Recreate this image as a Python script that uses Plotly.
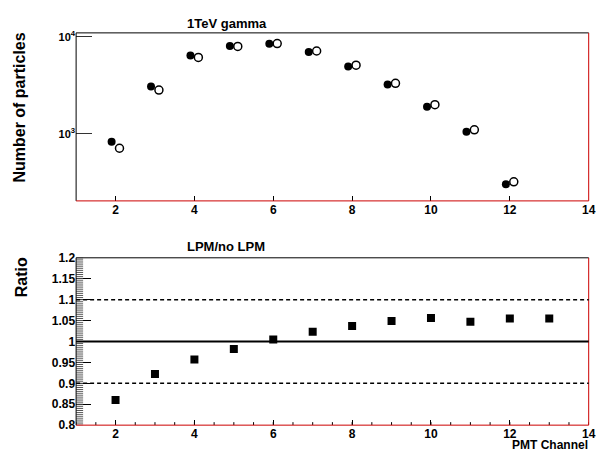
import math
import plotly.graph_objects as go

# ---- data ----
channels = [2, 3, 4, 5, 6, 7, 8, 9, 10, 11, 12]
no_lpm = [826, 3070, 6412, 8015, 8453, 6982, 4943, 3214, 1892, 1047, 302]
lpm = [708, 2818, 6124, 7943, 8515, 7130, 5093, 3311, 1995, 1096, 319]
ratio_channels = [2, 3, 4, 5, 6, 7, 8, 9, 10, 11, 12, 13]
ratio = [0.860, 0.922, 0.957, 0.982, 1.005, 1.023, 1.037, 1.049, 1.056, 1.047, 1.055, 1.055]
ref_levels = [0.9, 1.0, 1.1]
ref_dash = ["4px,3px", "solid", "4px,3px"]
x_ticks = [2, 4, 6, 8, 10, 12, 14]
x_minor = [1 + 0.5 * i for i in range(27)]
top_major = [1000, 10000]
top_major_text = ["10<sup>3</sup>", "10<sup>4</sup>"]
top_minor = [300, 400, 500, 600, 700, 800, 900, 2000, 3000, 4000, 5000, 6000, 7000, 8000, 9000]
ratio_ticks = [0.8, 0.85, 0.9, 0.95, 1.0, 1.05, 1.1, 1.15, 1.2]
ratio_tick_text = ["0.8", "0.85", "0.9", "0.95", "1", "1.05", "1.1", "1.15", "1.2"]
ratio_minor = [round(0.8 + 0.005 * i, 3) for i in range(81)]

W, H = 612, 459


def px(x):
    return x / W


def py(y):
    return 1 - y / H


FONT = "Liberation Sans, Arial, sans-serif"
xdom = [px(77), px(595.5)]
top_dom = [py(200), py(26.7)]
bot_dom = [py(431.3), py(258.7)]
XR = [1, 14]
YR_TOP = [2.307, 4.04]
YR_BOT = [0.8, 1.2]

fig = go.Figure()
fig.add_trace(go.Scatter(x=[c - 0.1 for c in channels], y=no_lpm, mode="markers",
                         marker=dict(symbol="circle", size=8, color="black"),
                         xaxis="x", yaxis="y", showlegend=False))
fig.add_trace(go.Scatter(x=[c + 0.1 for c in channels], y=lpm, mode="markers",
                         marker=dict(symbol="circle-open", size=8, color="black",
                                     line=dict(width=1.5, color="black")),
                         xaxis="x", yaxis="y", showlegend=False))
fig.add_trace(go.Scatter(x=ratio_channels, y=ratio, mode="markers",
                         marker=dict(symbol="square", size=8, color="black"),
                         xaxis="x2", yaxis="y2", showlegend=False))

tickfont = dict(family=FONT, size=12, color="black", weight="bold")
base = dict(showgrid=False, zeroline=False, showline=False, ticks="inside", tickwidth=1)

fig.update_layout(
    width=W, height=H, margin=dict(l=0, r=0, t=0, b=0),
    paper_bgcolor="white", plot_bgcolor="white",
    xaxis=dict(anchor="y", range=XR, domain=xdom, tickmode="array", tickvals=x_ticks,
               ticklen=5, tickcolor="black", tickfont=tickfont, **base),
    xaxis2=dict(anchor="y2", range=XR, domain=xdom, tickmode="array", tickvals=x_ticks,
                ticklen=5, tickcolor="black", tickfont=tickfont, **base),
    yaxis=dict(type="log", range=YR_TOP, domain=top_dom, anchor="x",
               tickmode="array", tickvals=top_major, ticktext=top_major_text,
               ticklen=16, tickcolor="#333",
               tickfont=dict(family=FONT, size=11, color="black", weight="bold"), **base),
    yaxis2=dict(range=YR_BOT, domain=bot_dom, anchor="x2",
                tickmode="array", tickvals=ratio_ticks, ticktext=ratio_tick_text,
                ticklen=15, tickcolor="black", tickfont=tickfont, **base),
)

shapes = []
# minor ticks (pixel-length lines anchored at the axes)
for v in x_minor:
    shapes.append(dict(type="line", xref="x", x0=v, x1=v, yref="y", ysizemode="pixel",
                       yanchor=YR_TOP[0], y0=0, y1=3, line=dict(color="black", width=1)))
    shapes.append(dict(type="line", xref="x2", x0=v, x1=v, yref="y2", ysizemode="pixel",
                       yanchor=YR_BOT[0], y0=0, y1=3, line=dict(color="black", width=1)))
for v in top_minor:
    lv = math.log10(v)
    shapes.append(dict(type="line", yref="y", y0=lv, y1=lv, xref="x", xsizemode="pixel",
                       xanchor=XR[0], x0=0, x1=8, line=dict(color="#333", width=1)))
for v in ratio_minor:
    shapes.append(dict(type="line", yref="y2", y0=v, y1=v, xref="x2", xsizemode="pixel",
                       xanchor=XR[0], x0=0, x1=7, line=dict(color="#555", width=1)))
# frames
for xr, yr in [("x domain", "y domain"), ("x2 domain", "y2 domain")]:
    shapes.append(dict(type="line", xref=xr, yref=yr, x0=0, x1=1, y0=1, y1=1, line=dict(color="black", width=1)))
    shapes.append(dict(type="line", xref=xr, yref=yr, x0=0, x1=0, y0=0, y1=1, line=dict(color="black", width=1)))
    shapes.append(dict(type="line", xref=xr, yref=yr, x0=0, x1=1, y0=0, y1=0, line=dict(color="#cc0000", width=1)))
    shapes.append(dict(type="line", xref=xr, yref=yr, x0=1, x1=1, y0=0, y1=1, line=dict(color="#cc0000", width=1)))
for lvl, dsh in zip(ref_levels, ref_dash):
    shapes.append(dict(type="line", xref="x2 domain", yref="y2", x0=0, x1=1, y0=lvl, y1=lvl,
                       line=dict(color="black", width=1.5 if dsh != "solid" else 2, dash=dsh)))
fig.update_layout(shapes=shapes)

ann_font = dict(family=FONT, color="black", weight="bold")
fig.update_layout(annotations=[
    dict(text="1TeV gamma", x=px(229.5), y=py(16.7), xref="paper", yref="paper",
         showarrow=False, xanchor="center", yanchor="middle", font=dict(size=13, **ann_font)),
    dict(text="LPM/no LPM", x=px(229), y=py(247.3), xref="paper", yref="paper",
         showarrow=False, xanchor="center", yanchor="middle", font=dict(size=13, **ann_font)),
    dict(text="Number of particles", x=px(20), y=py(104), xref="paper", yref="paper",
         showarrow=False, xanchor="center", yanchor="middle", textangle=-90,
         font=dict(size=16, **ann_font)),
    dict(text="Ratio", x=px(21.7), y=py(278.3), xref="paper", yref="paper",
         showarrow=False, xanchor="center", yanchor="middle", textangle=-90,
         font=dict(size=16, **ann_font)),
    dict(text="PMT Channel", x=px(597), y=py(451.7), xref="paper", yref="paper",
         showarrow=False, xanchor="right", yanchor="middle", font=dict(size=12, **ann_font)),
])

fig.write_html("out.html")
